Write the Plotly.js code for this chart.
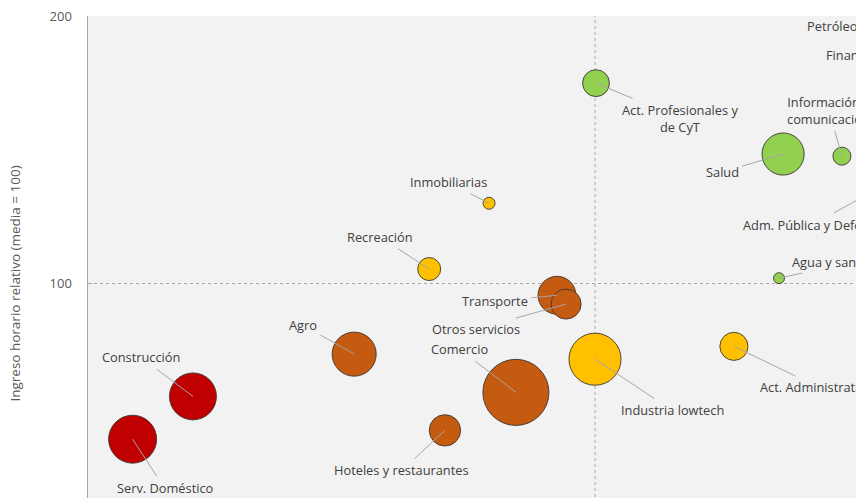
<!DOCTYPE html>
<html>
<head>
<meta charset="utf-8">
<script src="https://cdn.plot.ly/plotly-3.0.1.min.js"></script>
<style>
html,body{margin:0;padding:0;overflow:hidden;background:#fff;}
#chart{width:1110px;height:551px;}
</style>
</head>
<body>
<div id="chart"></div>
<script>
// ---- Data ----
var sectores = ['Serv. Doméstico','Construcción','Agro','Hoteles y restaurantes','Comercio',
  'Transporte','Otros servicios','Recreación','Inmobiliarias','Industria lowtech',
  'Act. Administrativas','Act. Profesionales y<br>de CyT','Salud','Información y<br>comunicación',
  'Agua y saneamiento','Adm. Pública y Defensa','Petróleo','Finanzas'];
var indiceX = [8.8, 20.7, 52.5, 70.4, 84.4, 92.5, 94.3, 67.3, 79.1, 100.0,
  127.4, 100.2, 137.1, 148.7, 136.3, 160, 185, 178];
var ingresoRelativo = [41.8, 57.8, 73.6, 45.1, 59.3, 95.6, 92.3, 105.4, 130.0, 71.7,
  76.5, 174.9, 148.4, 147.6, 102.0, 140, 195.5, 185.5];
var empleo = [9.6, 9.2, 8.1, 4.1, 18.2, 6.0, 3.75, 2.2, 0.6, 11.3,
  3.3, 3.0, 7.4, 1.35, 0.5, 5.0, 0.4, 1.5];
var grupo = ['rojo','rojo','marron','marron','marron','marron','marron','amarillo','amarillo','amarillo',
  'amarillo','verde','verde','verde','verde','verde','verde','verde'];
var referencia = 100;
var yTicks = [0, 100, 200];

// ---- Styling ----
var colores = {rojo:'#C00000', marron:'#C55A11', amarillo:'#FFC000', verde:'#92D050'};
// label offsets in pixels from bubble centre (dx, dy)
var etiquetaOffset = [[32,49],[-52,-39],[-51,-29],[-43,40],[-56,-43],
  [-62,6],[-90,25],[-49,-32],[-41,-21],[77,51],
  [85,41],[84,35],[-61,18],[-13,-46],[73,-16],[-86,48],[-193,-2],[-138,0]];

var W = 1110, H = 551, mL = 88, mR = 8, mT = 16, mB = 0;
var xRange = [0, 200], yRange = [0, 200];
var kx = (W - mL - mR) / (xRange[1] - xRange[0]);
var ky = (H - mT - mB) / (yRange[1] - yRange[0]);
var FONT = 'Open Sans, sans-serif';

var trace = {
  type: 'scatter', mode: 'markers',
  x: indiceX, y: ingresoRelativo, text: sectores,
  marker: {
    size: empleo, sizemode: 'area', sizeref: 1/120,
    color: grupo.map(function(g){return colores[g];}),
    line: {color: 'rgba(60,55,50,0.9)', width: 1}, opacity: 1
  },
  hoverinfo: 'text', cliponaxis: true
};

var annotations = sectores.map(function(s, i){
  var off = etiquetaOffset[i];
  return {
    x: indiceX[i], y: ingresoRelativo[i], xref: 'x', yref: 'y',
    axref: 'x', ayref: 'y',
    ax: indiceX[i] + off[0] / kx, ay: ingresoRelativo[i] - off[1] / ky,
    text: s, showarrow: true, arrowhead: 0, arrowwidth: 1, arrowcolor: '#A6A6A6',
    standoff: 0, startstandoff: 2,
    font: {family: FONT, size: 12.8, color: '#404040'}
  };
});

var layout = {
  width: W, height: H,
  margin: {l: mL, r: mR, t: mT, b: mB},
  paper_bgcolor: '#ffffff', plot_bgcolor: '#F2F2F2',
  showlegend: false,
  font: {family: FONT, color: '#595959'},
  xaxis: {range: xRange, showgrid: false, zeroline: false, showticklabels: false, showline: false},
  yaxis: {
    range: yRange, tickvals: yTicks, showgrid: false, zeroline: false,
    showline: true, linecolor: '#A6A6A6', linewidth: 1.5,
    ticks: 'inside', ticklen: 4, tickcolor: '#A6A6A6',
    ticklabelstandoff: 12,
    tickfont: {family: FONT, size: 13, color: '#595959'},
    title: {text: 'Ingreso horario relativo (media = 100)', standoff: 26,
      font: {family: FONT, size: 13.5, color: '#595959'}}
  },
  shapes: [
    {type: 'line', xref: 'x', yref: 'paper', x0: referencia, x1: referencia, y0: 0, y1: 1,
      line: {color: '#A6A6A6', width: 1, dash: 'dot'}, layer: 'below'},
    {type: 'line', xref: 'paper', yref: 'y', x0: 0, x1: 1, y0: referencia, y1: referencia,
      line: {color: '#A6A6A6', width: 1, dash: 'dot'}, layer: 'below'}
  ],
  annotations: annotations
};

Plotly.newPlot('chart', [trace], layout, {displayModeBar: false, staticPlot: true});
</script>
</body>
</html>
